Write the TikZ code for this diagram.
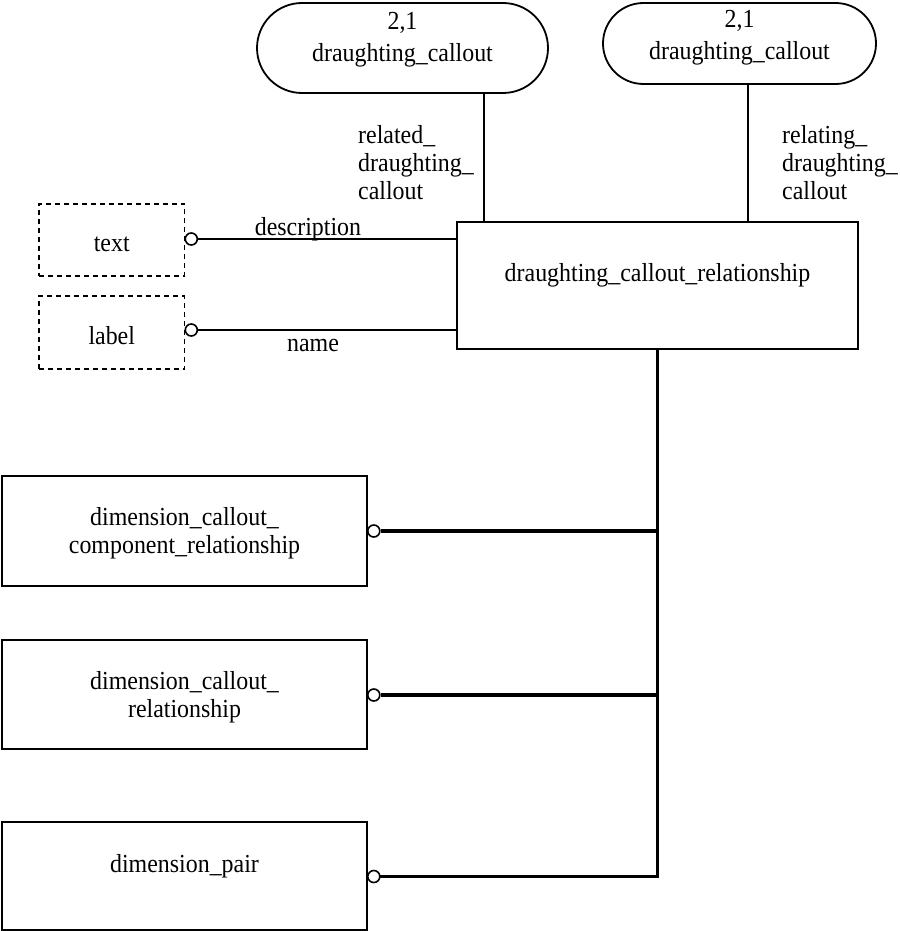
\documentclass[tikz,border=0pt]{standalone}
\usepackage{fontspec}
\setmainfont[FakeStretch=0.92]{Liberation Serif}
\begin{document}
\begin{tikzpicture}[x=1pt,y=-1pt,
  every node/.style={font=\fontsize{26}{28}\selectfont},
  ent/.style={draw, line width=1.8pt, rectangle, inner sep=0pt},
  typ/.style={draw, dash pattern=on 5pt off 4pt, line width=1.5pt, rectangle, inner sep=0pt},
  pill/.style={draw, line width=1.8pt, rectangle, inner sep=0pt},
  conn/.style={line width=1.6pt},
  bus/.style={line width=3.4pt},
  ring/.style={circle, draw, fill=white, line width=1.6pt, minimum size=12pt, inner sep=0pt, anchor=west},
  lbl/.style={align=left, anchor=west, inner sep=0pt},
  txt/.style={align=center, inner sep=0pt}
]
\useasboundingbox (0,0) rectangle (899,931);

% pills
\node[pill, minimum width=291pt, minimum height=90pt, rounded corners=45pt] (lp) at (402.5,48) {};
\node[txt] (lpt) at (402.5,39.5) {2,1\\[4pt]draughting\_callout};
\node[pill, minimum width=273pt, minimum height=81pt, rounded corners=40.5pt] (rp) at (739.5,43.5) {};
\node[txt] (rpt) at (739.5,37.5) {2,1\\[4pt]draughting\_callout};

% main entity
\node[ent, minimum width=401pt, minimum height=127pt] (dcr) at (657.5,285.5) {};
\node[txt] (dcrt) at (657.5,275) {draughting\_callout\_relationship};

% type boxes
\node[typ, minimum width=145.5pt, minimum height=72pt] (tx) at (111.75,239.75) {};
\node[txt] (txt) at (111.75,244.5) {text};
\node[typ, minimum width=145.5pt, minimum height=73pt] (lb) at (111.75,332.5) {};
\node[txt] (lbt) at (111.75,335.5) {label};

% subtype boxes
\node[ent, minimum width=365pt, minimum height=110pt] (b1) at (184.5,531) {};
\node[txt] (b1t) at (184.5,533.5) {dimension\_callout\_\\component\_relationship};
\node[ent, minimum width=365pt, minimum height=109pt] (b2) at (184.5,694.5) {};
\node[txt] (b2t) at (184.5,697.5) {dimension\_callout\_\\relationship};
\node[ent, minimum width=365pt, minimum height=108pt] (b3) at (184.5,876) {};
\node[txt] (b3t) at (184.5,866) {dimension\_pair};

% rings
\node[ring] (rt) at (184.5,239) {};
\node[ring] (rl) at (184.5,330) {};
\node[ring] (r1) at (367,531) {};
\node[ring] (r2) at (367,695) {};
\node[ring] (r3) at (367,876.5) {};

% attribute connectors
\draw[conn] (rt.east) -- (rt.east -| dcr.west);
\draw[conn] (rl.east) -- (rl.east -| dcr.west);
\node[txt] (ldesc) at (308,229.5) {description};
\node[txt] (lname) at (313,345.5) {name};

\draw[conn] ([xshift=81.5pt]lp.south) -- ([xshift=81.5pt]lp.south |- dcr.north);
\draw[conn] ([xshift=8.5pt]rp.south) -- ([xshift=8.5pt]rp.south |- dcr.north);
\node[lbl] (lrel) at (358,163) {related\_\\draughting\_\\callout};
\node[lbl] (lrelg) at (782,163) {relating\_\\draughting\_\\callout};

% subtype bus
\coordinate (busend) at (657.5,876.5);
\draw[bus] (dcr.south) -- (busend);
\draw[bus] (r1.east) -- (r1.east -| dcr.south);
\draw[bus] (r2.east) -- (r2.east -| dcr.south);
\draw[bus, line cap=rect] (r3.east) -- (busend);
\end{tikzpicture}
\end{document}
